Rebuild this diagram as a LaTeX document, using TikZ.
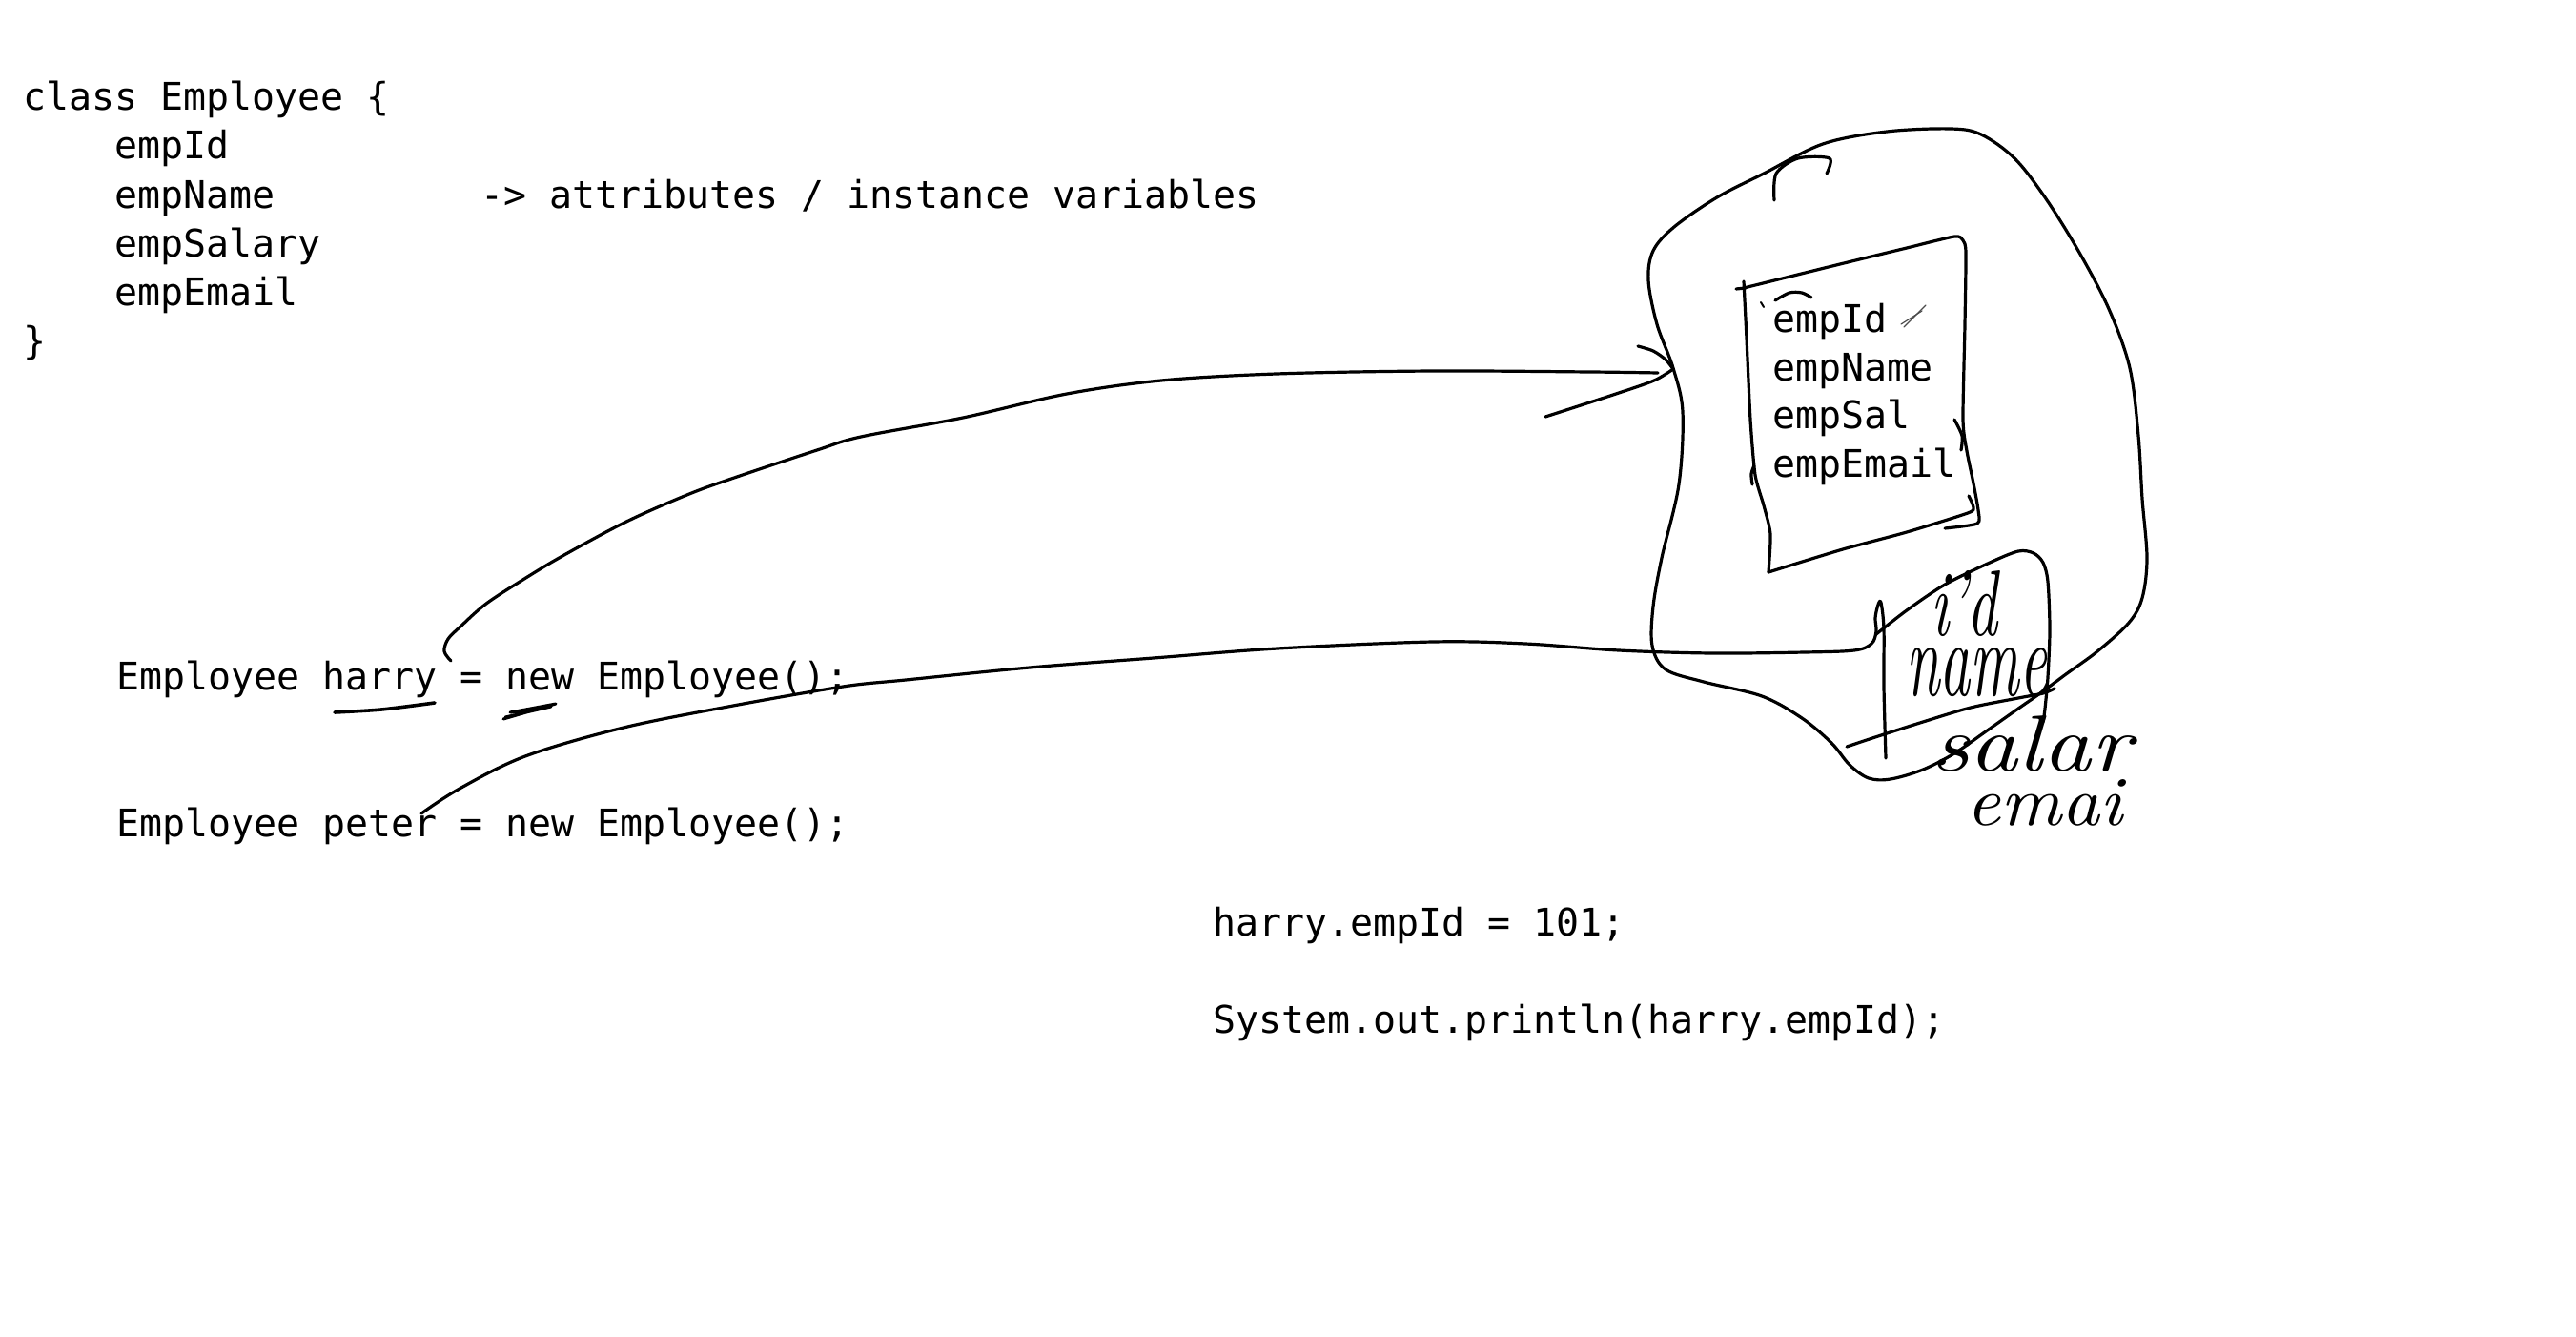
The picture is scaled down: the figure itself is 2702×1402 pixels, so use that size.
\documentclass[tikz,border=0pt]{standalone}
\usepackage{fontspec}
\usepackage{graphicx}
\newfontfamily\codefont{DejaVu Sans Mono}
\tikzset{
  code/.style={font=\codefont\fontsize{39.9}{48}\selectfont, anchor=base west, inner sep=0pt, text=black},
  pen/.style={line width=3.2pt, line cap=round, line join=round, draw=black},
  thinpen/.style={line width=1.2pt, line cap=round, draw=black!70},
  hand/.style={anchor=south west, inner sep=0pt, text=black},
}
\begin{document}
\begin{tikzpicture}[x=1pt,y=-1pt]
\useasboundingbox[fill=white] (0,0) rectangle (2702,1402);

% class definition
\node[code] (cls)   at (24,116)  {class Employee \{};
\node[code] (f1)    at (120,167) {empId};
\node[code] (f2)    at (120,218) {empName};
\node[code] (attr)  at (504,218) {-> attributes / instance variables};
\node[code] (f3)    at (120,269) {empSalary};
\node[code] (f4)    at (120,320) {empEmail};
\node[code] (cend)  at (24,371)  {\}};

% object creation
\node[code] (harry) at (122,723) {Employee harry = new Employee();};
\node[code] (peter) at (122,877) {Employee peter = new Employee();};

% usage
\node[code] (assign) at (1272,981)  {harry.empId = 101;};
\node[code] (print)  at (1272,1083) {System.out.println(harry.empId);};

% object contents
\node[code] (o1) at (1859,348) {empId};
\node[code] (o2) at (1859,399) {empName};
\node[code] (o3) at (1859,449) {empSal};
\node[code] (o4) at (1859,500) {empEmail};

% handwritten words
\node[hand] (hid)   at (2025,668) {\resizebox{70pt}{68pt}{\itshape i'd}};
\node[hand] (hname) at (1999,731) {\resizebox{148pt}{50pt}{\itshape name}};
\node[hand] (hsal)  at (2025,810) {\resizebox{210pt}{58pt}{\itshape salar}};
\node[hand] (hemai) at (2062,866) {\resizebox{164pt}{48pt}{\itshape emai}};

% named ends
\coordinate (harryStart) at (473,693);
\coordinate (arrowTip) at (1755,387);
\coordinate (peterStart) at (442,853);

% big blob (the object)
\draw[pen] plot[smooth cycle, tension=0.55] coordinates {(1755,386) (1738,340) (1729,294) (1734,263) (1756,238) (1801,207) (1850,182) (1912,151) (1979,138) (2046,135) (2078,141) (2113,166) (2145,207) (2180,263) (2212,324) (2234,386) (2243,457) (2247,523) (2252,585) (2247,627) (2233,653) (2200,683) (2167,707) (2140,727) (2117,743) (2083,767) (2050,790) (2017,807) (1983,817) (1960,816) (1940,802) (1921,779) (1890,753) (1848,730) (1787,715) (1747,702) (1733,677) (1734,636) (1743,585) (1761,508) (1765,432)};
% arc on top of blob
\draw[pen] plot[smooth] coordinates {(1861,210) (1863,182) (1886,166) (1919,166) (1916,182)};

% box inside blob
\draw[pen] plot[smooth, tension=0.4] coordinates {(1829,302) (1930,277) (2000,260) (2050,248) (2059,252) (2062,265) (2061,340) (2059,440) (2063,473) (2070,507) (2075,535) (2074,549) (2040,554)};
\draw[pen] plot[smooth, tension=0.4] coordinates {(1829,295) (1832,355) (1836,440) (1841,498) (1850,530) (1857,560) (1855,600)};
\draw[pen] (1821,303) -- (1831,302);
\draw[pen] plot[smooth, tension=0.4] coordinates {(2065,520) (2070,532) (2064,538) (2000,558) (1933,576) (1855,600)};
\draw[pen] plot[smooth] coordinates {(2050,440) (2058,457) (2057,472)};
\draw[pen] plot[smooth] coordinates {(1840,488) (1837,497) (1838,508)};
\draw[pen] plot[smooth] coordinates {(1862,315) (1877,307) (1890,307) (1900,312)};
\draw[pen, line width=2pt] (1847,317) -- (1850,322);
\draw[thinpen] (1997,343) -- (2020,320);
\draw[thinpen] (1994,340) -- (2016,326);

% arrow from harry to the object
\draw[pen] plot[smooth, tension=0.55] coordinates {(harryStart) (466,683) (470,670) (483,657) (510,633) (550,607) (590,583) (657,547) (723,518) (773,500) (857,472) (903,458) (1010,438) (1119,413) (1218,399) (1339,392) (1503,389) (1668,390) (1739,391)};
\draw[pen] plot[smooth] coordinates {(1718,363) (1734,368) (1747,377) (arrowTip)};
\draw[pen] plot[smooth] coordinates {(1621,437) (1695,413) (1735,399) (arrowTip)};

% peter's line to the second object
\draw[pen] plot[smooth, tension=0.55] coordinates {(peterStart) (482,827) (551,793) (654,763) (769,740) (884,720) (950,713) (1080,700) (1210,690) (1340,680) (1503,673) (1600,675) (1698,682) (1796,685) (1893,684) (1945,682) (1963,675) (1968,662) (1967,648) (1970,634) (1973,632) (1976,660) (1976,720) (1978,795)};
% small second object
\draw[pen] plot[smooth, tension=0.5] coordinates {(1968,665) (2000,640) (2040,613) (2087,590) (2117,578) (2133,580) (2143,590) (2148,610) (2150,660) (2148,710) (2145,743) (2143,757)};
\draw[pen] plot[smooth, tension=0.5] coordinates {(1937,783) (1967,773) (2017,757) (2067,742) (2117,732) (2143,727) (2155,722)};

% underline marks
\draw[pen, line width=3.6pt] plot[smooth] coordinates {(351,747) (400,744) (456,737)};
\draw[pen, line width=3pt] (528,754) -- (583,738) -- (535,747) -- (578,741) -- (530,752);
\end{tikzpicture}
\end{document}
